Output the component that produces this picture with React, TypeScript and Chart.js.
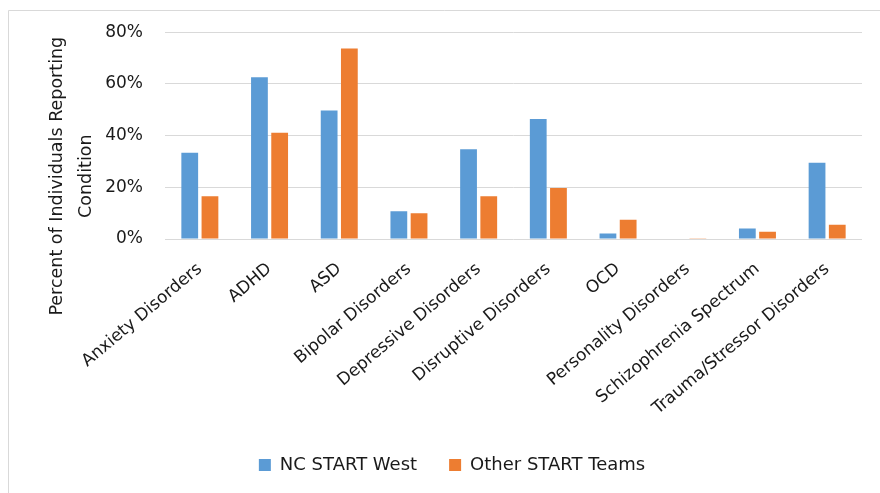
import React, { useEffect, useRef } from "react";
import { Chart, registerables } from "chart.js";

Chart.register(...registerables);

const categories = [
  "Anxiety Disorders",
  "ADHD",
  "ASD",
  "Bipolar Disorders",
  "Depressive Disorders",
  "Disruptive Disorders",
  "OCD",
  "Personality Disorders",
  "Schizophrenia Spectrum",
  "Trauma/Stressor Disorders",
];

const ncStartWest = [33.4, 62.6, 49.7, 10.7, 34.7, 46.4, 2.1, 0, 4.1, 29.5];
const otherStartTeams = [16.5, 41.1, 73.7, 10.0, 16.5, 19.7, 7.4, 0.3, 2.8, 5.5];

const yTicks = [0, 20, 40, 60, 80];
const yTitleLines = ["Percent of Individuals Reporting", "Condition"];

const FONT = "'DejaVu Sans', sans-serif";
const TEXT = "#1a1a1a";

// Outer frame of the chart panel (left and top edges visible)
const framePlugin = {
  id: "frame",
  beforeDraw(chart: any) {
    const { ctx, width, height } = chart;
    ctx.save();
    ctx.fillStyle = "#ffffff";
    ctx.fillRect(0, 0, width, height);
    ctx.strokeStyle = "#d9d9d9";
    ctx.lineWidth = 1;
    ctx.beginPath();
    ctx.moveTo(8.5, height);
    ctx.lineTo(8.5, 10.5);
    ctx.lineTo(width, 10.5);
    ctx.stroke();
    ctx.restore();
  },
};

// Two-line rotated y-axis title, centred a little below the plot centre
const yTitlePlugin = {
  id: "yTitle",
  afterDraw(chart: any) {
    const { ctx, chartArea } = chart;
    const cy = chartArea.top + 144;
    const xs = [chartArea.left - 108, chartArea.left - 78.5];
    ctx.save();
    ctx.fillStyle = TEXT;
    ctx.font = `17.5px ${FONT}`;
    ctx.textAlign = "center";
    ctx.textBaseline = "middle";
    yTitleLines.forEach((line, i) => {
      ctx.save();
      ctx.translate(xs[i], cy);
      ctx.rotate(-Math.PI / 2);
      ctx.fillText(line, 0, 0);
      ctx.restore();
    });
    ctx.restore();
  },
};

export default function App() {
  const canvasRef = useRef<HTMLCanvasElement | null>(null);

  useEffect(() => {
    document.body.style.overflow = "hidden";
    const canvas = canvasRef.current;
    if (!canvas) return;
    const chart = new Chart(canvas, {
      type: "bar",
      data: {
        labels: categories,
        datasets: [
          {
            label: "NC START West",
            data: ncStartWest,
            backgroundColor: "#5B9BD5",
            borderWidth: 0,
          },
          {
            label: "Other START Teams",
            data: otherStartTeams,
            backgroundColor: "#ED7D31",
            borderWidth: 0,
          },
        ],
      },
      options: {
        responsive: false,
        animation: false,
        devicePixelRatio: 1,
        layout: { padding: { left: 42, right: 18, top: 31, bottom: 20 } },
        datasets: {
          bar: { categoryPercentage: 0.58, barPercentage: 0.83 },
        },
        scales: {
          x: {
            grid: { display: false, drawTicks: false },
            border: { display: false },
            ticks: {
              minRotation: 40,
              maxRotation: 40,
              autoSkip: false,
              padding: 20,
              color: TEXT,
              font: { family: FONT, size: 17 },
            },
            afterFit(scale: any) {
              scale.height = 185;
            },
          },
          y: {
            min: 0,
            max: 80,
            afterBuildTicks(scale: any) {
              scale.ticks = yTicks.map((v) => ({ value: v }));
            },
            grid: { color: "#d9d9d9", lineWidth: 1, drawTicks: false },
            border: { display: false },
            ticks: {
              padding: 22,
              color: TEXT,
              font: { family: FONT, size: 17 },
              callback: (v: any) => `${v}%`,
            },
            afterFit(scale: any) {
              scale.width = 123;
            },
          },
        },
        plugins: {
          legend: {
            position: "bottom",
            labels: {
              boxWidth: 12,
              boxHeight: 12,
              padding: 32,
              color: TEXT,
              font: { family: FONT, size: 18 },
            },
          },
          tooltip: { enabled: false },
        },
      },
      plugins: [framePlugin, yTitlePlugin],
    });
    return () => chart.destroy();
  }, []);

  return (
    <div style={{ position: "fixed", left: 0, top: 0, width: 880, height: 504 }}>
      <canvas ref={canvasRef} width={880} height={504} />
    </div>
  );
}
